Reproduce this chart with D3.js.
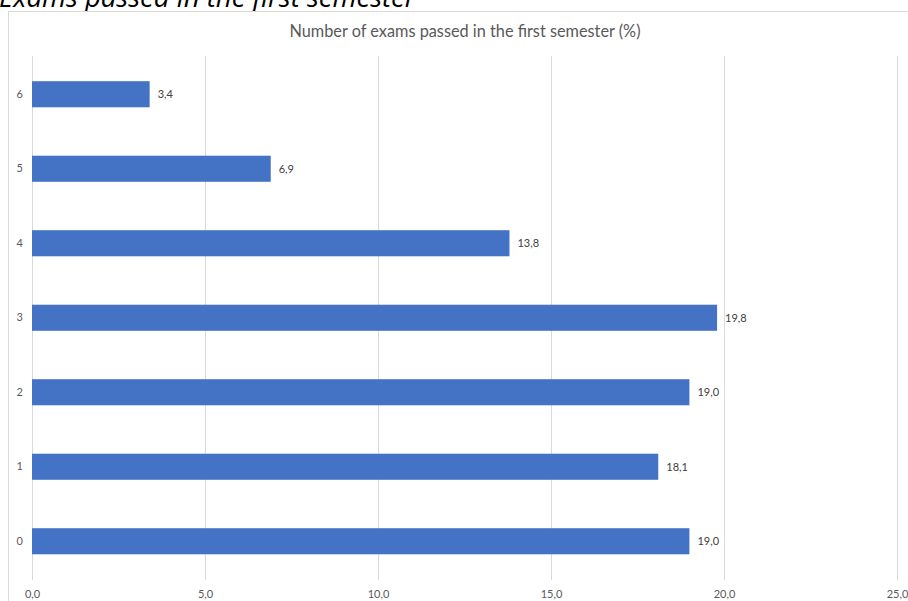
<!DOCTYPE html>
<html><head><meta charset="utf-8">
<script src="https://cdn.jsdelivr.net/npm/d3@7"></script>
<style>body{margin:0;background:#fff;}svg{display:block;}</style>
</head><body>
<svg id="c" width="908" height="601"></svg>
<script>
const categories = ["0","1","2","3","4","5","6"];
const values = [19.0, 18.1, 19.0, 19.8, 13.8, 6.9, 3.4];
const xTicks = [0, 5, 10, 15, 20, 25];
const pageTitle = "Exams passed in the first semester";
const chartTitle = "Number of exams passed in the first semester (%)";

const svg = d3.select("#c");
const fmt = d3.formatLocale({decimal: ",", thousands: ".", grouping: [3], currency: ["", "€"]}).format(".1f");
const font = "Lato, 'Open Sans', sans-serif";

// page title (cut off at top, as in the reference)
svg.append("text").attr("x", -1).attr("y", 7)
  .attr("font-family", "'Open Sans', sans-serif").attr("font-style", "italic")
  .attr("font-size", 27.5).attr("fill", "#000").text(pageTitle);

// frame
svg.append("rect").attr("x", 8.5).attr("y", 11.5).attr("width", 1000).attr("height", 700)
  .attr("fill", "#fff").attr("stroke", "#d9d9d9").attr("stroke-width", 1);

const x = d3.scaleLinear().domain([0, 25]).range([32, 897]);
const y = d3.scaleBand().domain(categories.slice().reverse()).range([57, 578.5])
  .paddingInner(0.65).paddingOuter(0.325);

// gridlines
svg.append("g").selectAll("line").data(xTicks).join("line")
  .attr("x1", d => Math.round(x(d)) + 0.5).attr("x2", d => Math.round(x(d)) + 0.5)
  .attr("y1", 56).attr("y2", 580)
  .attr("stroke", "#d9d9d9").attr("stroke-width", 1);

// x axis labels
const xAxis = d3.axisBottom(x).tickValues(xTicks).tickFormat(fmt).tickSize(0).tickPadding(0);
const gx = svg.append("g").attr("transform", "translate(0,590)").call(xAxis);
gx.select(".domain").remove();
gx.selectAll("text").attr("font-family", font).attr("font-size", 11).attr("fill", "#595959").attr("dy", "0.71em");

// y axis labels
const yAxis = d3.axisLeft(y).tickSize(0).tickPadding(0);
const gy = svg.append("g").attr("transform", "translate(23,0)").call(yAxis);
gy.select(".domain").remove();
gy.selectAll("text").attr("font-family", font).attr("font-size", 11).attr("fill", "#595959");

// bars
svg.append("g").selectAll("rect").data(values).join("rect")
  .attr("x", x(0)).attr("y", (d, i) => y(categories[i]))
  .attr("width", d => x(d) - x(0)).attr("height", y.bandwidth())
  .attr("fill", "#4472C4");

// data labels
svg.append("g").selectAll("text").data(values).join("text")
  .attr("x", d => x(d) + 8).attr("y", (d, i) => y(categories[i]) + y.bandwidth() / 2)
  .attr("dy", "0.35em").attr("font-family", font).attr("font-size", 11).attr("fill", "#404040")
  .text(d => fmt(d));

// chart title
svg.append("text").attr("x", 465).attr("y", 37).attr("text-anchor", "middle")
  .attr("font-family", font).attr("font-size", 16.3).attr("fill", "#595959").text(chartTitle);
</script>
</body></html>
